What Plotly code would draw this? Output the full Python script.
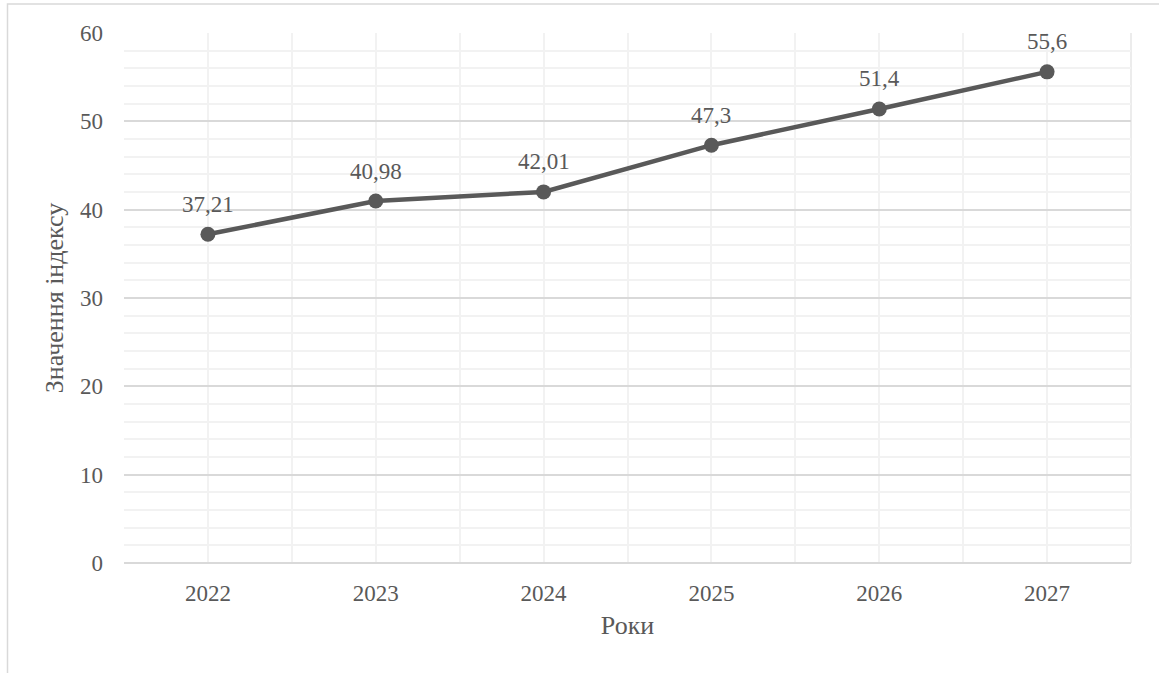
import plotly.graph_objects as go

years = [2022, 2023, 2024, 2025, 2026, 2027]
values = [37.21, 40.98, 42.01, 47.3, 51.4, 55.6]
labels = ["37,21", "40,98", "42,01", "47,3", "51,4", "55,6"]
y_ticks = [0, 10, 20, 30, 40, 50, 60]

W, H = 1159, 673
ML, MR, MT, MB = 124, 28, 33, 110
PW, PH = W - ML - MR, H - MT - MB

FONT = "Liberation Serif"
TXT = "#595959"

fig = go.Figure()
fig.add_trace(go.Scatter(
    x=years, y=values, mode="lines+markers",
    line=dict(color="#595959", width=4.5),
    marker=dict(color="#595959", size=15),
    hoverinfo="skip", showlegend=False,
))

for xv, yv, lab in zip(years, values, labels):
    fig.add_annotation(x=xv, y=yv, text=lab, showarrow=False, yshift=30,
                       font=dict(family=FONT, size=23, color=TXT))

# chart border (left/top visible)
fig.add_shape(type="rect", xref="paper", yref="paper",
              x0=(7.5 - ML) / PW, x1=(W + 10 - ML) / PW,
              y0=-(H + 10 - MT - PH) / PH, y1=(H - 4 - MB) / PH,
              line=dict(color="#d9d9d9", width=1.5), layer="below")
# right edge of plot area
fig.add_shape(type="line", xref="paper", yref="paper", x0=1, x1=1, y0=0, y1=1,
              line=dict(color="#e6e6e6", width=1.5), layer="below")

fig.update_layout(
    width=W, height=H,
    margin=dict(l=ML, r=MR, t=MT, b=MB),
    paper_bgcolor="white", plot_bgcolor="white",
    font=dict(family=FONT, size=23, color=TXT),
    xaxis=dict(
        range=[years[0] - 0.5, years[-1] + 0.5],
        tickvals=years, ticktext=[str(y) for y in years],
        showgrid=True, gridcolor="#f2f2f2", gridwidth=1.5,
        minor=dict(dtick=0.5, tick0=years[0] - 0.5, showgrid=True,
                   gridcolor="#f2f2f2", gridwidth=1.5),
        zeroline=False, showline=False, ticks="",
        ticklabelstandoff=14,
        title=dict(text="Роки", font=dict(family=FONT, size=26, color=TXT),
                   standoff=10),
        tickfont=dict(family=FONT, size=23, color=TXT),
    ),
    yaxis=dict(
        range=[0, 60], tickvals=y_ticks,
        showgrid=True, gridcolor="#d9d9d9", gridwidth=1.5,
        minor=dict(dtick=2, showgrid=True, gridcolor="#f2f2f2", gridwidth=1.5),
        zeroline=True, zerolinecolor="#d9d9d9", zerolinewidth=1.5,
        showline=False, ticks="",
        ticklabelstandoff=20,
        title=dict(text="Значення індексу", font=dict(family=FONT, size=26, color=TXT),
                   standoff=8),
        tickfont=dict(family=FONT, size=23, color=TXT),
    ),
)

fig.write_html("out.html")
